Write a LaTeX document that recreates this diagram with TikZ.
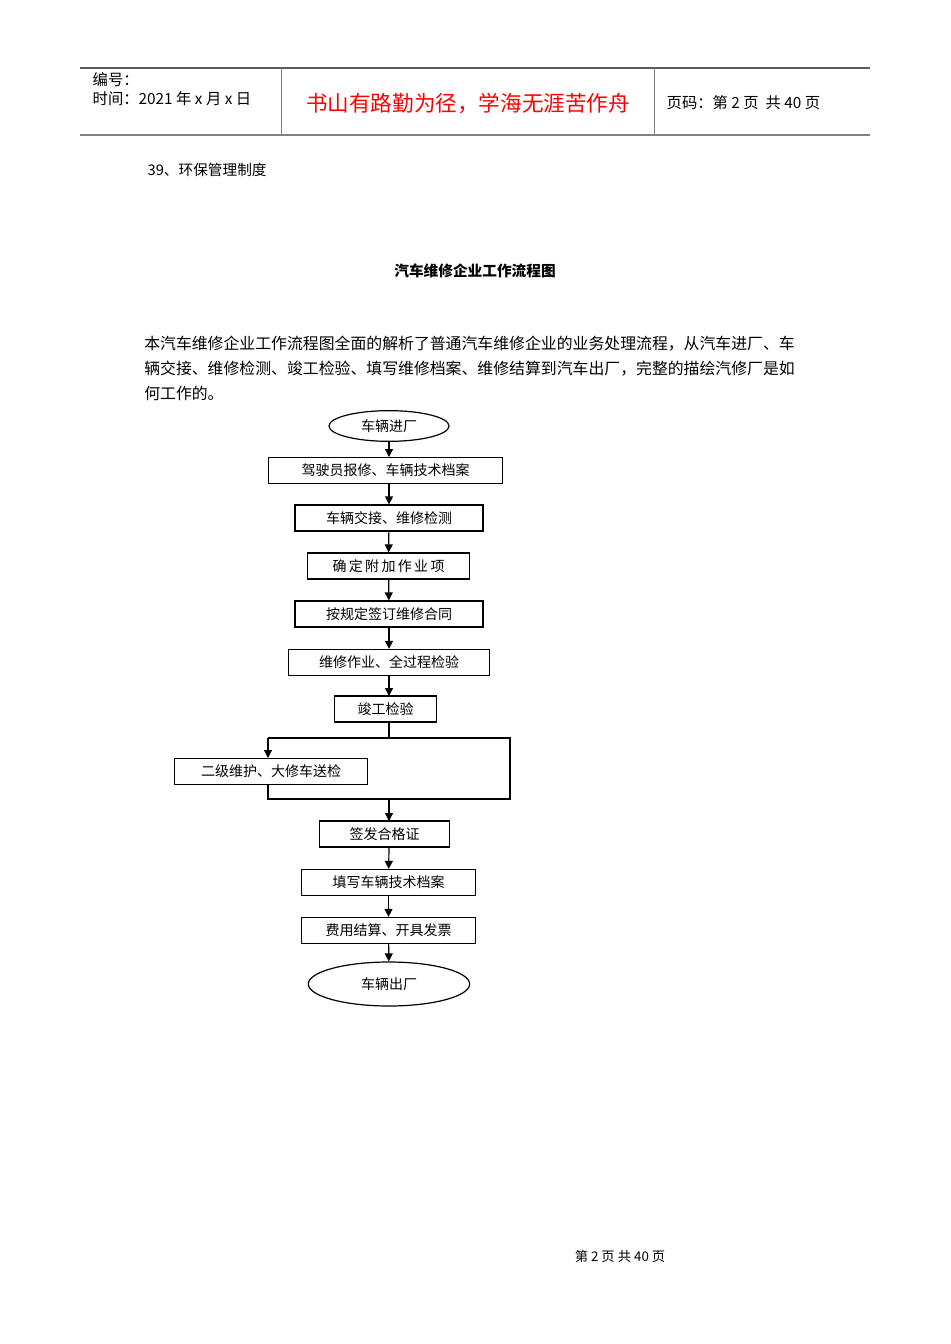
\documentclass[tikz,border=0pt]{standalone}
\usepackage{fontspec}
\setmainfont{Noto Sans CJK SC}
\usetikzlibrary{shapes.geometric,arrows.meta}
\tikzset{
  px/.style={x=0.75pt,y=-0.75pt},
  fbox/.style={draw,line width=0.9pt,minimum height=19.5pt,inner sep=0pt,font=\fontsize{10.5}{12}\selectfont},
  fell/.style={draw,ellipse,line width=0.9pt,inner sep=0pt,font=\fontsize{10.5}{12}\selectfont},
  arr/.style={-{Triangle[length=6pt,width=6pt]},line width=0.9pt},
  ln/.style={line width=0.9pt}
}
\begin{document}
\begin{tikzpicture}[px]
\useasboundingbox (0,0) rectangle (950,1344);
\fill[white] (0,0) rectangle (950,1344);
% header
\draw[line width=0.8pt,gray!70!black] (80,68) -- (870,68);
\draw[line width=1.6pt,gray] (80,135) -- (870,135);
\draw[line width=0.6pt,gray] (281,68) -- (281,135);
\draw[line width=0.6pt,gray] (654,68) -- (654,135);
\node[anchor=west,font=\fontsize{11.5}{13}\selectfont] (h1) at (88,80) {编号：};
\node[anchor=west,font=\fontsize{11.5}{13}\selectfont] (h2) at (88,99) {时间：2021 年 x 月 x 日};
\node[text=red,font=\fontsize{16.2}{18}\selectfont] (h3) at (468,103) {书山有路勤为径，学海无涯苦作舟};
\node[anchor=west,font=\fontsize{11.5}{13}\selectfont] (h4) at (662,103) {页码：第 2 页\ \ 共 40 页};
\node[anchor=west,font=\fontsize{11}{13}\selectfont] (t39) at (143,170) {39、环保管理制度};
\node[font=\bfseries\fontsize{11}{13}\selectfont] (title) at (475,271) {汽车维修企业工作流程图};
\node[anchor=north west,align=left,font=\fontsize{11.9}{18.6}\selectfont,inner sep=0pt] (para) at (144,336)
 {本汽车维修企业工作流程图全面的解析了普通汽车维修企业的业务处理流程，从汽车进厂、车\\辆交接、维修检测、竣工检验、填写维修档案、维修结算到汽车出厂，完整的描绘汽修厂是如\\何工作的。};
% flowchart
\node[fell,minimum width=90pt,minimum height=23pt] (e1) at (389,426) {车辆进厂};
\node[fbox,minimum width=176pt] (b1) at (385.5,470.5) {驾驶员报修、车辆技术档案};
\node[fbox,minimum width=141pt] (b2) at (389,518) {车辆交接、维修检测};
\node[fbox,minimum width=121pt] (b3) at (388.5,566) {确\,定\,附\,加\,作\,业\,项};
\node[fbox,minimum width=141pt] (b4) at (389,614) {按规定签订维修合同};
\node[fbox,minimum width=151pt] (b5) at (389,662.5) {维修作业、全过程检验};
\node[fbox,minimum width=76pt] (b6) at (385.5,709) {竣工检验};
\node[fbox,minimum width=145pt] (b7) at (271,771.5) {二级维护、大修车送检};
\node[fbox,minimum width=97pt] (b8) at (384.5,834) {签发合格证};
\node[fbox,minimum width=131pt] (b9) at (388.5,882.5) {填写车辆技术档案};
\node[fbox,minimum width=131pt] (b10) at (388.5,930.5) {费用结算、开具发票};
\node[fell,minimum width=121pt,minimum height=33pt] (e2) at (389,984) {车辆出厂};
\coordinate (lt) at (268,738);
\coordinate (rt) at (510,738);
\coordinate (rb) at (510,799);
\coordinate (mb) at (389,799);
\coordinate (mt) at (389,738);
\draw[arr] (e1) -- (389,457);
\draw[arr] (389,484) -- (b2);
\draw[arr] (b2) -- (b3);
\draw[arr] (b3) -- (b4);
\draw[arr] (b4) -- (b5);
\draw[arr] (b5) -- (389,696);
\draw[ln] (389,722) -- (mt);
\draw[ln] (lt) -- (rt) -- (rb) -- (mb);
\draw[ln] (268,785) -- (268,799) -- (mb);
\draw[arr] (lt) -- (268,758);
\draw[arr] (mb) -- (389,821);
\draw[arr] (389,847) -- (b9);
\draw[arr] (b9) -- (b10);
\draw[arr] (b10) -- (e2);
\node[font=\fontsize{10}{12}\selectfont] (foot) at (620,1256) {第\ 2\ 页\ 共\ 40\ 页};
\end{tikzpicture}
\end{document}
